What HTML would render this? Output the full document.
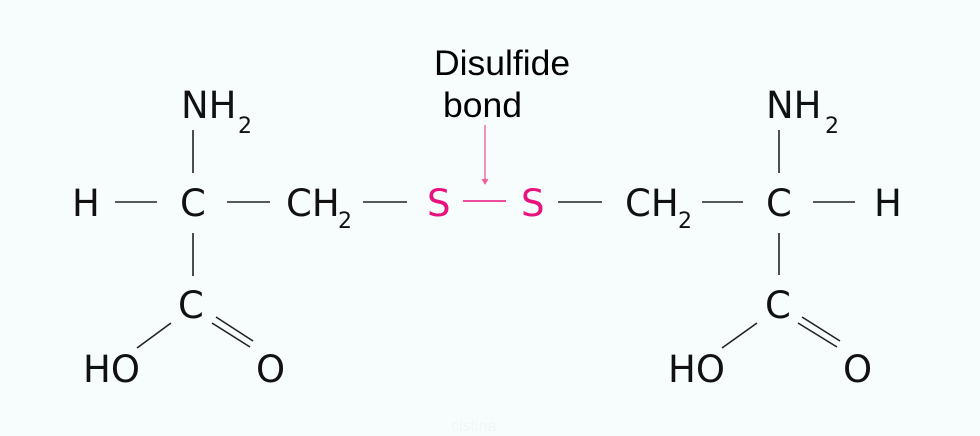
<!DOCTYPE html>
<html><head><meta charset="utf-8"><style>
html,body{margin:0;padding:0;background:#f7fdfd;}
svg{display:block}
.c{font-family:"DejaVu Sans",sans-serif;fill:#111;font-size:37px}
.s{font-family:"DejaVu Sans",sans-serif;fill:#111;font-size:22px}
.l{font-family:"Liberation Sans",sans-serif;fill:#000;font-size:35.5px}
</style></head><body>
<svg width="980" height="436" viewBox="0 0 980 436" xmlns="http://www.w3.org/2000/svg">
<rect width="980" height="436" fill="#f7fdfd"/>
<!-- left molecule -->
<text class="c" x="181" y="118">NH</text>
<text class="s" x="238" y="133">2</text>
<text class="c" x="72" y="216">H</text>
<text class="c" x="180" y="216">C</text>
<text class="c" x="286" y="216">CH</text>
<text class="s" x="338" y="228">2</text>
<text class="c" x="178" y="318">C</text>
<text class="c" x="83" y="382">HO</text>
<text class="c" x="256" y="382">O</text>
<!-- right molecule -->
<text class="c" x="766" y="118">NH</text>
<text class="s" x="825" y="133">2</text>
<text class="c" x="625" y="216">CH</text>
<text class="s" x="678" y="228">2</text>
<text class="c" x="766" y="216">C</text>
<text class="c" x="874" y="216">H</text>
<text class="c" x="765" y="318">C</text>
<text class="c" x="668" y="382">HO</text>
<text class="c" x="843" y="382">O</text>
<!-- S -->
<text class="c" x="427" y="216" style="fill:#e8127f">S</text>
<text class="c" x="521" y="216" style="fill:#e8127f">S</text>
<g stroke="#222" stroke-width="1.6" fill="none">
<line x1="193" y1="130" x2="193" y2="173"/>
<line x1="115" y1="202" x2="157" y2="202"/>
<line x1="227" y1="202" x2="270" y2="202"/>
<line x1="363" y1="202" x2="407" y2="202"/>
<line x1="193" y1="233" x2="193" y2="276"/>
<line x1="171" y1="323" x2="137" y2="348"/>
<line x1="212" y1="323" x2="250" y2="347"/>
<line x1="216" y1="317" x2="253" y2="341"/>
<line x1="558" y1="202" x2="602" y2="202"/>
<line x1="702" y1="202" x2="743" y2="202"/>
<line x1="813" y1="202" x2="855" y2="202"/>
<line x1="779" y1="130" x2="779" y2="173"/>
<line x1="779" y1="233" x2="779" y2="275"/>
<line x1="757" y1="323" x2="722" y2="348"/>
<line x1="798" y1="323" x2="837" y2="347"/>
<line x1="802" y1="317" x2="840" y2="341"/>
</g>
<line x1="463" y1="201" x2="506" y2="201" stroke="#e8127f" stroke-width="1.6"/>
<line x1="485" y1="125" x2="485" y2="180" stroke="#f0609f" stroke-width="1.4"/>
<polygon points="481.5,179 488.5,179 485,185" fill="#f0609f"/>
<text class="l" x="434" y="75">Disulfide</text>
<text class="l" x="443" y="117">bond</text>
<text x="451" y="431" style="fill:#eef6f6;font-family:'Liberation Sans',sans-serif;font-size:16px">cistina</text>
</svg>
</body></html>
